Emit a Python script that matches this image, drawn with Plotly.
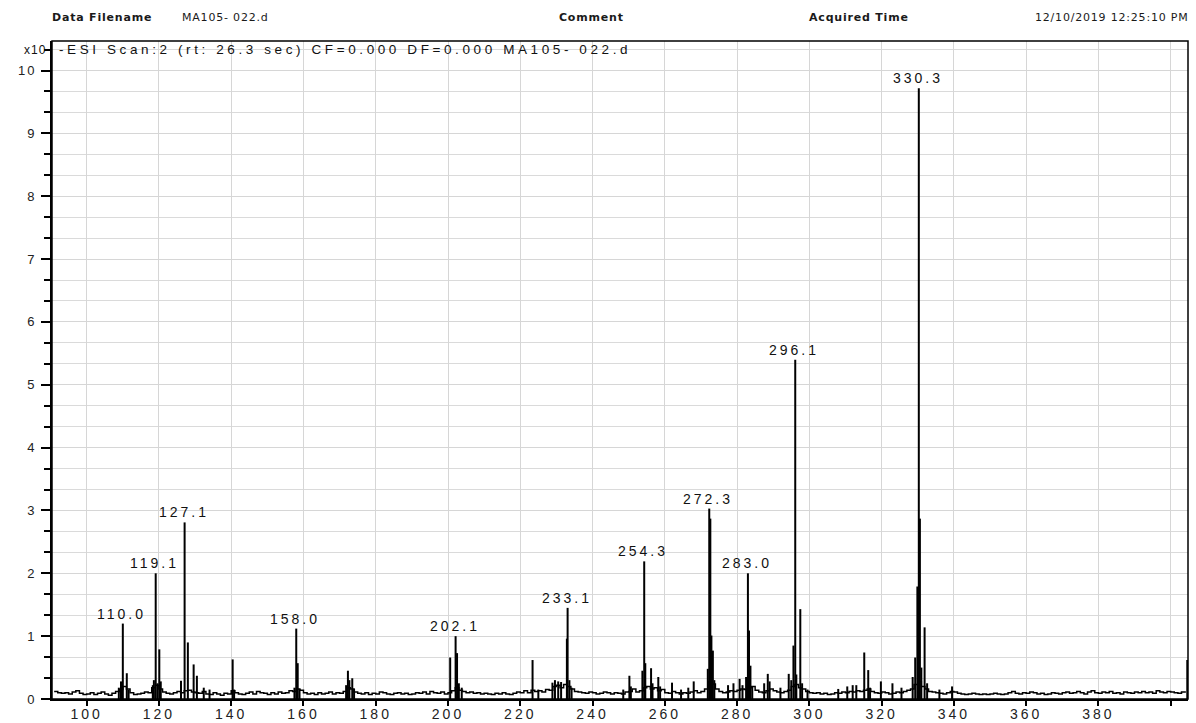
import plotly.graph_objects as go

# ---------------- data ----------------
# baseline noise, one value per m/z unit starting at 91
base_start = 91
base_int = [
    0.12, 0.10, 0.09, 0.10, 0.08, 0.11, 0.13, 0.09, 0.07, 0.08, 0.10, 0.07, 0.09, 0.11, 0.08, 0.06, 0.09, 0.12, 0.15, 0.20,
    0.16, 0.10, 0.07, 0.08, 0.09, 0.11, 0.10, 0.18, 0.22, 0.16, 0.11, 0.09, 0.08, 0.10, 0.12, 0.10, 0.13, 0.14, 0.11, 0.10,
    0.09, 0.12, 0.08, 0.07, 0.10, 0.08, 0.06, 0.09, 0.08, 0.13, 0.10, 0.08, 0.07, 0.09, 0.11, 0.08, 0.12, 0.10, 0.09, 0.07,
    0.10, 0.08, 0.11, 0.09, 0.10, 0.13, 0.12, 0.16, 0.14, 0.10, 0.08, 0.09, 0.07, 0.10, 0.08, 0.09, 0.11, 0.08, 0.10, 0.09,
    0.12, 0.18, 0.16, 0.11, 0.09, 0.08, 0.10, 0.07, 0.09, 0.08, 0.11, 0.10, 0.08, 0.07, 0.09, 0.10, 0.08, 0.09, 0.07, 0.08,
    0.10, 0.09, 0.11, 0.08, 0.12, 0.10, 0.09, 0.11, 0.08, 0.10, 0.13, 0.18, 0.14, 0.12, 0.10, 0.11, 0.09, 0.10, 0.08, 0.09,
    0.08, 0.07, 0.09, 0.08, 0.10, 0.08, 0.07, 0.09, 0.11, 0.10, 0.13, 0.10, 0.14, 0.12, 0.13, 0.11, 0.15, 0.14, 0.20, 0.22,
    0.18, 0.23, 0.20, 0.16, 0.12, 0.11, 0.10, 0.09, 0.11, 0.10, 0.08, 0.09, 0.11, 0.10, 0.08, 0.10, 0.09, 0.08, 0.11, 0.12,
    0.16, 0.11, 0.13, 0.18, 0.20, 0.16, 0.18, 0.13, 0.15, 0.10, 0.09, 0.12, 0.10, 0.08, 0.10, 0.09, 0.11, 0.13, 0.10, 0.12,
    0.16, 0.28, 0.24, 0.16, 0.12, 0.10, 0.11, 0.13, 0.12, 0.14, 0.16, 0.15, 0.18, 0.20, 0.14, 0.11, 0.10, 0.13, 0.16, 0.13,
    0.11, 0.10, 0.12, 0.14, 0.20, 0.23, 0.18, 0.16, 0.12, 0.10, 0.09, 0.10, 0.08, 0.09, 0.07, 0.08, 0.10, 0.09, 0.11, 0.10,
    0.12, 0.11, 0.13, 0.12, 0.14, 0.16, 0.12, 0.10, 0.09, 0.11, 0.10, 0.08, 0.09, 0.11, 0.10, 0.12, 0.14, 0.16, 0.23, 0.28,
    0.20, 0.16, 0.12, 0.11, 0.10, 0.09, 0.08, 0.10, 0.12, 0.11, 0.09, 0.08, 0.07, 0.08, 0.09, 0.08, 0.07, 0.08, 0.07, 0.08,
    0.09, 0.08, 0.07, 0.08, 0.10, 0.12, 0.09, 0.08, 0.10, 0.09, 0.11, 0.10, 0.08, 0.09, 0.07, 0.08, 0.10, 0.09, 0.08, 0.10,
    0.11, 0.09, 0.10, 0.12, 0.10, 0.08, 0.11, 0.13, 0.10, 0.09, 0.11, 0.10, 0.12, 0.09, 0.10, 0.08, 0.11, 0.10, 0.09, 0.11,
    0.10, 0.12, 0.10, 0.11, 0.09, 0.13, 0.11, 0.10, 0.12, 0.11, 0.10, 0.09, 0.11, 0.10,
]
base_mz = [base_start + i for i in range(len(base_int))]

# labelled peaks (m/z, intensity)
major_mz = [110.0, 119.1, 127.1, 158.0, 202.1, 233.1, 254.3, 272.3, 283.0, 296.1, 330.3]
major_int = [1.20, 2.00, 2.81, 1.12, 1.00, 1.45, 2.19, 3.03, 2.00, 5.40, 9.72]

# smaller unlabelled peaks
minor_mz = [
    108.9, 109.5, 109.7, 111.1, 111.6, 118.3, 118.6, 119.6, 120.1, 120.5,
    126.1, 128.0, 129.6, 130.5, 132.4, 134.0, 140.4, 140.8, 157.5, 158.4,
    158.9, 171.8, 172.3, 172.7, 173.5, 174.0, 200.6, 202.5, 203.0, 203.8,
    223.4, 225.0, 228.9, 229.6, 230.5, 231.3, 232.9, 233.6, 234.2, 248.5,
    250.2, 250.6, 253.8, 254.6, 256.2, 256.6, 258.2, 258.7, 262.0, 264.5,
    266.5, 268.0, 271.9, 272.6, 272.9, 273.3, 273.7, 277.5, 279.0, 280.7,
    281.5, 282.5, 283.3, 283.7, 284.2, 287.5, 288.5, 289.0, 292.0, 294.3,
    295.0, 295.6, 296.4, 297.5, 298.0, 299.5, 308.0, 310.5, 312.0, 313.0,
    315.2, 316.3, 316.8, 319.8, 323.0, 325.5, 328.6, 329.3, 329.9, 330.6,
    331.0, 331.9, 332.6, 336.0, 339.5, 404.6,
]
minor_int = [
    0.18, 0.28, 0.22, 0.41, 0.15, 0.22, 0.30, 0.25, 0.79, 0.28,
    0.29, 0.90, 0.55, 0.37, 0.18, 0.15, 0.63, 0.15, 0.18, 0.57,
    0.16, 0.22, 0.45, 0.30, 0.33, 0.16, 0.66, 0.73, 0.25, 0.18,
    0.62, 0.15, 0.26, 0.30, 0.28, 0.27, 0.96, 0.30, 0.18, 0.15,
    0.37, 0.20, 0.45, 0.57, 0.49, 0.25, 0.35, 0.20, 0.26, 0.15,
    0.18, 0.28, 0.48, 2.87, 1.01, 0.77, 0.30, 0.22, 0.25, 0.32,
    0.22, 0.35, 1.09, 0.53, 0.20, 0.25, 0.40, 0.28, 0.18, 0.40,
    0.30, 0.85, 0.39, 1.43, 0.25, 0.15, 0.16, 0.20, 0.22, 0.22,
    0.74, 0.46, 0.18, 0.28, 0.25, 0.18, 0.35, 0.66, 1.79, 2.87,
    0.50, 1.14, 0.25, 0.15, 0.20, 0.62,
]

x_tickvals = [100, 120, 140, 160, 180, 200, 220, 240, 260, 280, 300, 320, 340, 360, 380, 400]
x_ticklabels = ["100", "120", "140", "160", "180", "200", "220", "240", "260", "280",
                "300", "320", "340", "360", "380", ""]
y_tickvals = [0, 1, 2, 3, 4, 5, 6, 7, 8, 9, 10]
y_ticklabels = ["0", "1", "2", "3", "4", "5", "6", "7", "8", "9", "10"]

title_text = "-ESI Scan:2 (rt: 26.3 sec) CF=0.000 DF=0.000 MA105- 022.d"
header_items = [
    ("Data Filename", True, 50, "left"),
    ("MA105- 022.d", False, 180, "left"),
    ("Comment", True, 557, "left"),
    ("Acquired Time", True, 807, "left"),
    ("12/10/2019 12:25:10 PM", False, 1191, "right"),
]

# ---------------- figure ----------------
W, H = 1196, 723
ML, MR, MT, MB = 52, 8, 41, 24
PW, PH = W - ML - MR, H - MT - MB
X_RANGE = [90.4, 404.8]
Y_RANGE = [0, 10.47]
FONT = "Liberation Sans"


def sp(text, ls):
    return f'<span style="letter-spacing:{ls}px">{text}</span>'


def pxx(px):
    return (px - ML) / PW


def pxy(py):
    return (H - MB - py) / PH


stick_x, stick_y = [], []
for m, h in zip(major_mz + minor_mz, major_int + minor_int):
    stick_x += [m, m, None]
    stick_y += [0, h, None]

fig = go.Figure()
fig.add_trace(go.Scatter(x=base_mz, y=base_int, mode="lines", line=dict(color="black", width=1.5, shape="hv"),
                         hoverinfo="skip", showlegend=False))
fig.add_trace(go.Scatter(x=stick_x, y=stick_y, mode="lines", line=dict(color="black", width=2),
                         hoverinfo="skip", showlegend=False))

annotations = []
for m, h in zip(major_mz, major_int):
    annotations.append(dict(x=m, y=h, xref="x", yref="y", text=sp(f"{m:.1f}", 3), showarrow=False,
                            xanchor="center", yanchor="bottom", xshift=-1, yshift=0,
                            font=dict(family=FONT, size=14, color="#111")))

annotations.append(dict(x=pxx(57), y=pxy(49), xref="paper", yref="paper", text=sp(title_text, 3.6),
                        showarrow=False, xanchor="left", yanchor="middle",
                        font=dict(family=FONT, size=13.5, color="#111")))
annotations.append(dict(x=pxx(48), y=pxy(50), xref="paper", yref="paper", text=sp("x10", 1),
                        showarrow=False, xanchor="right", yanchor="middle",
                        font=dict(family=FONT, size=12, color="#111")))
for txt, bold, px, anchor in header_items:
    t = f"<b>{txt}</b>" if bold else txt
    annotations.append(dict(x=pxx(px), y=pxy(17), xref="paper", yref="paper", text=sp(t, 0.8),
                            showarrow=False, xanchor=anchor, yanchor="middle",
                            font=dict(family="DejaVu Sans", size=11, color="#1a1a1a")))

shapes = [
    dict(type="rect", xref="paper", yref="paper", x0=0, x1=1, y0=0, y1=1,
         line=dict(color="black", width=1.5), fillcolor="rgba(0,0,0,0)", layer="above"),
]

fig.update_layout(
    width=W, height=H,
    margin=dict(l=ML, r=MR, t=MT, b=MB, pad=0, autoexpand=False),
    paper_bgcolor="white", plot_bgcolor="white",
    showlegend=False,
    annotations=annotations,
    shapes=shapes,
    xaxis=dict(
        range=X_RANGE, tickmode="array", tickvals=x_tickvals,
        ticktext=[sp(t, 3) for t in x_ticklabels],
        ticks="outside", ticklen=5, tickwidth=1.5, tickcolor="black",
        showgrid=True, gridcolor="#d6d6d6", gridwidth=1,
        showline=True, linecolor="black", linewidth=2,
        zeroline=False, ticklabelstandoff=-4, automargin=False,
        tickfont=dict(family=FONT, size=14, color="#222"),
    ),
    yaxis=dict(
        range=Y_RANGE, tickmode="array", tickvals=y_tickvals,
        ticktext=[sp(t, 2) for t in y_ticklabels],
        ticks="outside", ticklen=9, tickwidth=1.5, tickcolor="black",
        showgrid=True, gridcolor="#d6d6d6", gridwidth=1,
        showline=True, linecolor="black", linewidth=2,
        zeroline=False, ticklabelstandoff=2, automargin=False,
        tickfont=dict(family=FONT, size=13, color="#222"),
        minor=dict(dtick=1 / 3, tick0=0, ticks="outside", ticklen=6, tickcolor="black",
                   showgrid=True, gridcolor="#dadada", gridwidth=1),
    ),
)

fig.write_html("out.html", config={"displayModeBar": False},
               post_script="document.body.style.margin='0';")
